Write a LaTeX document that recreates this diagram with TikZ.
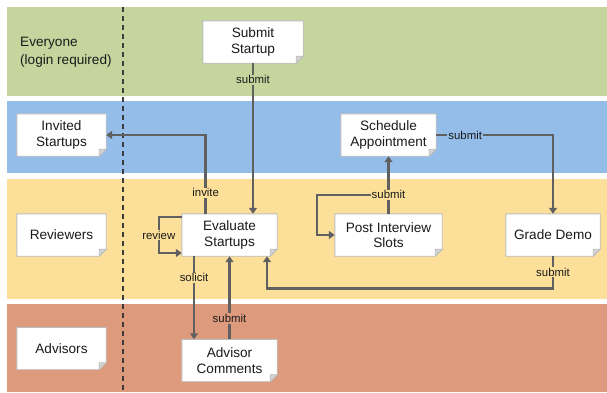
\documentclass[tikz,border=0pt]{standalone}
\usepackage{fontspec}
\setmainfont{Liberation Sans}
\usetikzlibrary{arrows.meta,calc}
\pgfdeclarelayer{bg}\pgfdeclarelayer{notes}\pgfsetlayers{bg,notes,main}
\definecolor{cgreen}{HTML}{C4D59E}
\definecolor{cblue}{HTML}{94BDEA}
\definecolor{cyellow}{HTML}{FCE09A}
\definecolor{corange}{HTML}{DE9A7C}
\definecolor{cline}{HTML}{606060}
\definecolor{cborder}{HTML}{BDBDBD}
\definecolor{cfold}{HTML}{D4D4D4}
\definecolor{ctext}{HTML}{1A1A1A}
\begin{document}
\begin{tikzpicture}[x=1pt,y=-1pt,
  note/.style={minimum height=42pt, inner sep=0pt, align=center, text=ctext,
    font=\fontsize{13.6}{15.7}\selectfont},
  lane/.style={anchor=west, align=left, inner sep=0pt, text=ctext,
    font=\fontsize{13.6}{17.5}\selectfont},
  lbl/.style={inner sep=1pt, text=ctext, font=\fontsize{11.4}{13}\selectfont},
  conn/.style={draw=cline, line width=2.6pt},
  arr/.style={conn, -{Triangle[length=6pt,width=8pt]}}]
\useasboundingbox (0,0) rectangle (607,392);
\begin{pgfonlayer}{bg}
  \fill[cgreen] (7,7) rectangle (607,96);
  \fill[cblue] (7,101) rectangle (607,173);
  \fill[cyellow] (7,179) rectangle (607,299);
  \fill[corange] (7,304) rectangle (607,392);
  \draw[draw=ctext!85, line width=1.5pt, dash pattern=on 5pt off 4pt] (123,7) -- (123,392);
\end{pgfonlayer}

\node[lane] (everyone) at (20,52) {Everyone\\(login required)};

\node[note, minimum width=100pt] (submitS) at (253,42) {Submit\\Startup};
\node[note, minimum width=89pt] (invited) at (61.5,135) {Invited\\Startups};
\node[note, minimum width=95pt] (sched) at (388.5,135) {Schedule\\Appointment};
\node[note, minimum width=89pt] (reviewers) at (61.5,235) {Reviewers};
\node[note, minimum width=95pt] (eval) at (229.5,235) {Evaluate\\Startups};
\node[note, minimum width=107pt] (pi) at (388.5,235) {Post Interview\\Slots};
\node[note, minimum width=94pt] (grade) at (553,235) {Grade Demo};
\node[note, minimum width=89pt] (advisors) at (61.5,348.5) {Advisors};
\node[note, minimum width=95pt] (advc) at (229.5,360.5) {Advisor\\Comments};

\begin{pgfonlayer}{notes}
\foreach \n in {submitS,invited,sched,reviewers,eval,pi,grade,advisors,advc}{
  \filldraw[fill=white, draw=cborder, line width=0.9pt]
    (\n.north west) -- (\n.north east) -- ([yshift=7pt]\n.south east)
    -- ([xshift=-7pt]\n.south east) -- (\n.south west) -- cycle;
  \filldraw[fill=cfold, draw=cborder, line width=0.6pt]
    ([yshift=7pt]\n.south east) -- ([xshift=-7pt,yshift=7pt]\n.south east)
    -- ([xshift=-7pt]\n.south east) -- cycle;
}
\end{pgfonlayer}

% Submit Startup -> Evaluate
\draw[arr] (submitS.south) -- node[lbl, fill=cgreen, pos=0.11] {submit} (submitS.south |- eval.north);
% invite
\draw[arr] ([xshift=-23.8pt]eval.north) |- node[lbl, fill=cyellow, pos=0.133] {invite} (invited.east);
% review loop
\draw[arr] ([yshift=18pt]eval.west) -- ++(-23,0) -- node[lbl, fill=cyellow] {review} ++(0,36) -- ([yshift=-18pt]eval.west);
% solicit
\draw[arr] ([xshift=-35.5pt]eval.south) -- node[lbl, fill=cyellow, pos=0.26] {solicit} ([xshift=-35.5pt]eval.south |- advc.north);
% advisor submit
\draw[arr] (advc.north) -- node[lbl, fill=corange, pos=0.25] {submit} (eval.south);
% grade demo -> evaluate
\draw[arr] (grade.south) -- node[lbl, fill=cyellow] {submit} ++(0,32) -| ([xshift=37.5pt]eval.south);
% post interview loop
\coordinate (lp) at ($(pi.north)+(0,-19)$);
\draw[arr] (lp) -| ([xshift=-18pt]pi.west) -- (pi.west);
% post interview -> schedule
\draw[arr] (pi.north) -- node[lbl, fill=cyellow, pos=0.33] {submit} (sched.south);
% schedule -> grade
\draw[arr] (sched.east) -| node[lbl, fill=cblue, pos=0.124] {submit} (grade.north);
\end{tikzpicture}
\end{document}
